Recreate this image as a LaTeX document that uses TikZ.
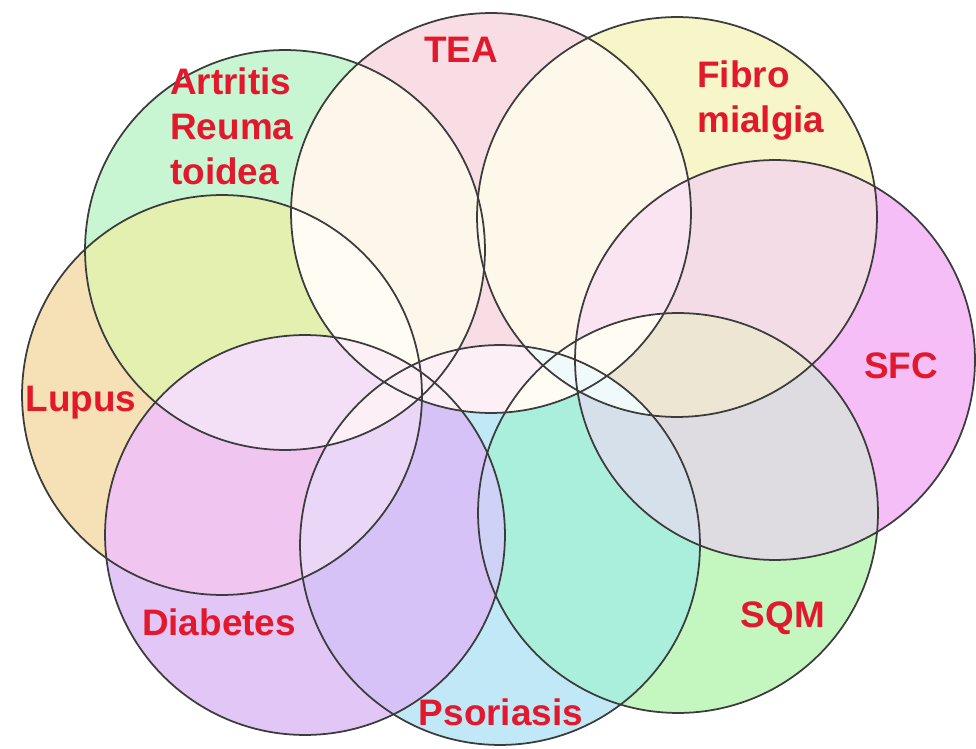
\documentclass[tikz,border=0pt]{standalone}
\usepackage{fontspec}
\setmainfont{Liberation Sans}
\usepackage{xcolor}
% disc colours
\definecolor{ArtritisGreen}{RGB}{200,245,210}
\definecolor{TeaPink}{RGB}{248,222,228}
\definecolor{FibroYellow}{RGB}{246,246,200}
\definecolor{SfcPink}{RGB}{246,190,246}
\definecolor{SqmGreen}{RGB}{196,246,192}
\definecolor{PsoBlue}{RGB}{192,232,246}
\definecolor{DiabLilac}{RGB}{226,198,246}
\definecolor{LupusPeach}{RGB}{246,224,182}
% overlap colours
\definecolor{MixAT}{RGB}{253,246,234}
\definecolor{MixTF}{RGB}{253,248,234}
\definecolor{MixFS}{RGB}{244,220,230}
\definecolor{MixSQ}{RGB}{222,220,224}
\definecolor{MixQP}{RGB}{170,238,220}
\definecolor{MixPD}{RGB}{214,194,246}
\definecolor{MixDL}{RGB}{240,198,240}
\definecolor{MixLA}{RGB}{228,240,176}
\definecolor{MixTS}{RGB}{250,228,242}
\definecolor{MixFQ}{RGB}{236,230,210}
\definecolor{MixSP}{RGB}{214,224,234}
\definecolor{MixQD}{RGB}{206,210,246}
\definecolor{MixPL}{RGB}{234,214,246}
\definecolor{MixDA}{RGB}{243,224,246}
\definecolor{CoreWhite}{RGB}{255,252,244}
\definecolor{CorePink}{RGB}{252,240,246}
\definecolor{CoreCyan}{RGB}{240,250,250}
\definecolor{LabelRed}{RGB}{226,24,44}
\definecolor{RingGrey}{RGB}{60,60,60}
\tikzset{
  disease/.style={font=\fontsize{21}{25.6}\selectfont\bfseries, text=LabelRed,
    inner sep=0pt},
  twoline/.style={disease, align=left, anchor=north west},
  ringline/.style={draw=RingGrey, line width=1pt}
}

\begin{document}
\begin{tikzpicture}[x=0.02cm, y=-0.02cm]
  \useasboundingbox (0,0) rectangle (976,749);
  % centres of the eight sets
  \coordinate (artritis) at (285,250);
  \coordinate (tea) at (491,213);
  \coordinate (fibro) at (677,217);
  \coordinate (sfc) at (775,360);
  \coordinate (sqm) at (678,513);
  \coordinate (psoriasis) at (500,545);
  \coordinate (diabetes) at (305,535);
  \coordinate (lupus) at (222,395);
  % plain discs
  \foreach \c/\colr in {artritis/ArtritisGreen, tea/TeaPink, fibro/FibroYellow,
      sfc/SfcPink, sqm/SqmGreen, psoriasis/PsoBlue, diabetes/DiabLilac,
      lupus/LupusPeach}
    \fill[\colr] (\c) circle (4cm);
  % overlaps, outer ring first and centre last
  \foreach \a/\b/\colr in {fibro/sfc/MixFS, sfc/sqm/MixSQ, sqm/psoriasis/MixQP,
      psoriasis/diabetes/MixPD, diabetes/lupus/MixDL, lupus/artritis/MixLA,
      tea/artritis/MixAT, tea/fibro/MixTF,
      tea/sfc/MixTS, fibro/sqm/MixFQ, sfc/psoriasis/MixSP, sqm/diabetes/MixQD,
      psoriasis/lupus/MixPL, diabetes/artritis/MixDA,
      tea/lupus/CoreWhite, tea/diabetes/CorePink, tea/psoriasis/CorePink,
      artritis/psoriasis/CorePink, tea/sqm/CoreWhite, fibro/psoriasis/CoreCyan}
  {
    \begin{scope}
      \clip (\a) circle (4cm);
      \fill[\colr] (\b) circle (4cm);
    \end{scope}
  }
  % rims
  \foreach \c in {artritis, tea, fibro, sfc, sqm, psoriasis, diabetes, lupus}
    \draw[ringline] (\c) circle (4cm);

  \node[disease, anchor=base] (teaLabel) at (461,63) {TEA};
  \node[twoline] (artritisLabel) at (170,67) {Artritis\\Reuma\\toidea};
  \node[twoline] (fibroLabel) at (697,60) {Fibro\\mialgia};
  \node[disease, anchor=base] (sfcLabel) at (901,378) {SFC};
  \node[disease, anchor=base] (sqmLabel) at (783,627) {SQM};
  \node[disease, anchor=base] (psoriasisLabel) at (501,725) {Psoriasis};
  \node[disease, anchor=base] (diabetesLabel) at (219,635) {Diabetes};
  \node[disease, anchor=base] (lupusLabel) at (81,412) {Lupus};
\end{tikzpicture}
\end{document}
